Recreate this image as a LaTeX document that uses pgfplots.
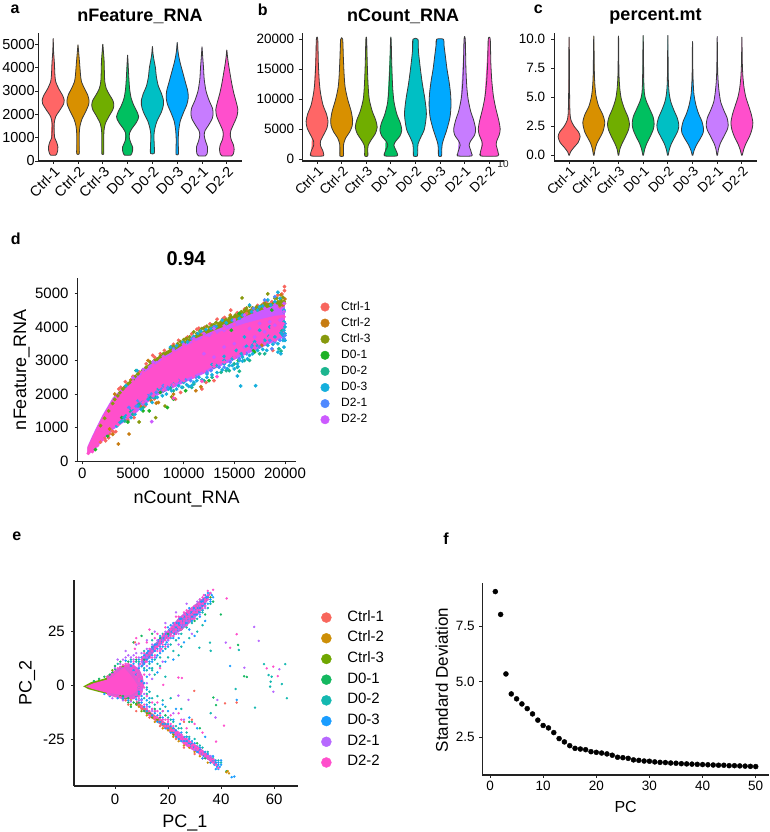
\documentclass[border=0pt]{standalone}
\usepackage{fontspec}
\setmainfont{Liberation Sans}
\usepackage{pgfplots}
\pgfplotsset{compat=1.18}

% violin fills
\definecolor{va}{HTML}{FF6666}
\definecolor{vb}{HTML}{D89000}
\definecolor{vc}{HTML}{70AE00}
\definecolor{vd}{HTML}{00C060}
\definecolor{ve}{HTML}{00BFC4}
\definecolor{vf}{HTML}{00A9FF}
\definecolor{vg}{HTML}{C77CFF}
\definecolor{vh}{HTML}{FF4FCC}
\definecolor{vline}{HTML}{3A3A3A}
\definecolor{axc}{HTML}{222222}
% panel d
\definecolor{da}{HTML}{F8665E}
\definecolor{db}{HTML}{C77C11}
\definecolor{dc}{HTML}{87990D}
\definecolor{dd}{HTML}{1DB225}
\definecolor{de}{HTML}{1CB58F}
\definecolor{df}{HTML}{15AFDC}
\definecolor{dg}{HTML}{5089FF}
\definecolor{dh}{HTML}{CC5AFF}
% panel e
\definecolor{ea}{HTML}{F8665C}
\definecolor{eb}{HTML}{CD8F07}
\definecolor{ec}{HTML}{6FA600}
\definecolor{ed}{HTML}{14B860}
\definecolor{ee}{HTML}{14B8B0}
\definecolor{ef}{HTML}{1A9DFF}
\definecolor{eg}{HTML}{B768FF}
\definecolor{eh}{HTML}{FF4FCC}

\newcommand{\fs}[1]{\fontsize{#1}{#1}\selectfont}

\pgfplotsset{
  every axis title shift=0pt,
  panel/.style={
    scale only axis,
    axis lines=left,
    axis line style={-,line width=1.2pt,color=axc},
    tick style={line width=0.9pt,color=axc},
    tick align=outside,
    major tick length=3pt,
    scaled ticks=false,
    clip=false,
    xlabel style={anchor=center,font=\fs{18}},
    ylabel style={anchor=center,font=\fs{18}},
    title style={anchor=center,font=\fs{18}\bfseries},
    legend cell align=left,
  },
  violins/.style={
    xmin=0.4,xmax=8.6,
    xtick={1,2,3,4,5,6,7,8},
    xticklabels={Ctrl-1,Ctrl-2,Ctrl-3,D0-1,D0-2,D0-3,D2-1,D2-2},
    x tick label style={rotate=45,anchor=north east,inner sep=1pt},
    title style={at={(axis description cs:0.5,1.127)}},
  },
}

% category, colour, list of y/half width in px
\newcommand{\violin}[3]{%
  \def\lft{}\def\rgt{}%
  \foreach \y/\w in {#3}{%
    \pgfmathsetmacro\xl{#1-\w/24.7}%
    \pgfmathsetmacro\xr{#1+\w/24.7}%
    \xdef\lft{\lft (\xl,\y)}%
    \xdef\rgt{(\xr,\y) \rgt}%
  }%
  \edef\temp{\noexpand\addplot[fill=#2,draw=vline,line width=0.8pt,line join=round,smooth,tension=0.45,forget plot] coordinates {\lft\space\rgt\space\lft};}%
  \temp
}
\newcommand{\scat}[3]{\addplot[only marks,mark=*,mark size=#2,color=#1,mark options={draw=none},forget plot] coordinates {#3};}

\begin{document}
\begin{tikzpicture}
\useasboundingbox (0,0) rectangle (770pt,832pt);

% panel letters
\node[font=\fs{16}\bfseries] at (15pt,822.5pt) {a};
\node[font=\fs{16}\bfseries] at (262.7pt,822.5pt) {b};
\node[font=\fs{16}\bfseries] at (538.3pt,822.5pt) {c};
\node[font=\fs{16}\bfseries] at (15.7pt,593.7pt) {d};
\node[font=\fs{16}\bfseries] at (16.7pt,295.3pt) {e};
\node[font=\fs{16}\bfseries] at (446pt,293.7pt) {f};
\node[font=\fs{10},text=axc] at (503pt,668pt) {10};

% a
\begin{axis}[panel,violins,at={(38.3pt,671pt)},width=203.4pt,height=128pt,
  ymin=0,ymax=5485,
  ytick={0,1000,2000,3000,4000,5000},yticklabels={0,1000,2000,3000,4000,5000},
  tick label style={font=\fs{14.5}},y tick label style={inner sep=0.5pt},
  title={nFeature\_RNA}]
\violin{1}{va}{250/2.5,300/3.5,450/4.5,600/4.7,800/3.5,1000/1.5,1300/1.0,1600/1.0,1900/2.5,2200/7,2450/10.5,2600/11,2800/9.5,3100/5.5,3400/2.5,3700/1.7,4200/1.2,4700/0.4,5200/0.1}
\violin{2}{vb}{300/1.2,500/1.3,800/1.2,1200/1.3,1500/2,1800/4,2100/7.5,2400/10.5,2600/11,2850/9.5,3100/6.5,3400/3.5,3700/2.5,4200/1.6,4600/0.8,4950/0.1}
\violin{3}{vc}{300/0.9,600/1,1000/1,1300/1.2,1600/2.5,1900/6,2200/10,2400/11,2600/10,2850/6.5,3100/3.5,3400/2,3800/1.6,4300/1.3,4700/0.6,5000/0.1}
\violin{4}{vd}{250/3,300/4,450/5,600/5,800/3,1000/1.7,1200/2,1400/4.5,1600/8,1800/10.5,1900/11,2100/9.5,2400/6,2700/3.5,3100/2,3600/1.2,4100/0.6,4500/0.1}
\violin{5}{ve}{320/1.8,500/2,750/1.8,1100/1.5,1400/2.5,1700/4.5,2100/9,2400/11,2600/11,2900/9,3200/6,3600/4,4000/3,4300/1.7,4600/0.6,4900/0.1}
\violin{6}{vf}{280/1.1,500/1.2,900/1,1300/1.5,1700/3,2100/6.5,2400/9.5,2700/11,3000/10.5,3400/8,3800/5.5,4200/3,4500/1.5,4700/0.8,5050/0.1}
\violin{7}{vg}{220/3.5,300/5,450/5.5,600/5.5,850/3.5,1100/2.2,1300/3,1500/6,1800/10,2000/11,2250/10.5,2600/7,3000/4,3500/2.2,4000/1.5,4400/0.8,4850/0.1}
\violin{8}{vh}{220/5,300/6.5,500/7.3,700/6.5,900/4.5,1100/3.5,1300/4,1600/7,1900/10,2200/11,2500/9.5,2900/7,3300/5,3800/3,4200/1.5,4500/0.6,4750/0.1}
\end{axis}

% b
\begin{axis}[panel,violins,at={(302.3pt,671pt)},width=201.7pt,height=128pt,
  ymin=-334,ymax=21053,
  ytick={0,5000,10000,15000,20000},yticklabels={0,5000,10000,15000,20000},
  tick label style={font=\fs{13.5}},y tick label style={inner sep=5pt},
  title={nCount\_RNA}]
\violin{1}{va}{500/6,900/6.5,1500/5.5,2200/3.5,3000/3.5,4000/6.5,5200/10,6300/11,7500/9.5,9000/6,11000/3.5,13000/2.2,16000/1.3,20000/0.7}
\violin{2}{vb}{500/1.8,1500/1.8,2500/2,3500/4,4500/8,5500/10.5,6500/11,8000/9.5,10000/6,12000/3.5,14000/2.5,17000/1.7,20000/1}
\violin{3}{vc}{500/1.5,1500/1.5,2300/2,3200/5,4200/9,5300/11,6500/9.5,8000/6,10000/3,12500/1.8,16000/1,20000/0.4}
\violin{4}{vd}{500/6,900/6.5,1500/5,2300/3,3000/5,3800/9,4800/11,6000/9.5,7500/6,9500/3.2,12000/1.8,16000/0.9,20000/0.3}
\violin{5}{ve}{500/2,1500/2.2,2500/2.6,3500/5,5000/9,7500/11,10000/9.5,12500/7,15000/5,18000/3,20000/2.5}
\violin{6}{vf}{500/1.5,1500/1.7,2500/2.2,3500/4,5000/7,7000/10,9000/11,11000/10.5,13000/9,15000/7,17000/5.5,19000/4,20000/3.5}
\violin{7}{vg}{500/7,900/7,1500/6,2300/4.5,3000/6,4000/10,5000/11,6500/9,8000/6,10000/3.5,12000/2.2,15000/1.3,20000/0.6}
\violin{8}{vh}{500/8.5,1000/9,1700/8,2300/7,3000/7.5,4000/10,5000/11,6500/9.5,8500/6.5,10500/4.2,13000/2.6,16000/1.6,20000/1}
\end{axis}

% c
\begin{axis}[panel,violins,at={(554.3pt,671pt)},width=202.4pt,height=128pt,
  ymin=-0.49,ymax=10.54,
  ytick={0,2.5,5,7.5,10},yticklabels={0.0,2.5,5.0,7.5,10.0},
  tick label style={font=\fs{13.5}},y tick label style={inner sep=6pt},
  title={percent.mt}]
\violin{1}{va}{0/0.2,0.3/1.5,0.7/5,1.1/9,1.6/11,2.0/9.5,2.5/5,3/2,3.5/1,4.5/0.6,6/0.4,8/0.3,10/0.15}
\violin{2}{vb}{0/0.3,0.5/1.3,1/3,1.5/6,2/9,2.8/11,3.5/9,4.2/5,5/2.5,5.8/1.3,7/0.6,10/0.15}
\violin{3}{vc}{0/0.3,0.5/1.3,1/3.5,1.6/7,2.2/10,2.7/11,3.3/9.5,4/6,4.8/3,5.6/1.5,7/0.5,10/0.15}
\violin{4}{vd}{0/0.3,0.5/1.5,1/3.5,1.6/7,2.2/10,2.7/11,3.3/10,4/6.5,4.7/3,5.3/1.3,6.5/0.6,10/0.15}
\violin{5}{ve}{0/0.3,0.5/1.5,1/3.5,1.5/6.5,2.1/10,2.6/11,3.2/9.5,3.9/6,4.6/3,5.3/1.4,6.5/0.5,10/0.1}
\violin{6}{vf}{0/0.3,0.4/1.5,0.9/4,1.4/7.5,1.9/10.5,2.3/11,2.9/9.5,3.6/6,4.3/3.5,5.2/1.5,6.2/0.7,7.5/0.3,9.6/0.1}
\violin{7}{vg}{0/0.3,0.5/1.2,1/3,1.6/6.5,2.2/10,2.6/11,3.2/10,3.9/6.5,4.6/3.5,5.4/2,6.3/1,7.5/0.4,10/0.1}
\violin{8}{vh}{0/0.3,0.5/1.8,1/4,1.6/7.5,2.2/10,2.8/11,3.5/9.5,4.2/7,5/4,5.8/2.2,6.8/1,8/0.4,10/0.1}
\end{axis}

% d
\begin{axis}[panel,at={(77.7pt,370.7pt)},width=218pt,height=183pt,
  xmin=-454,xmax=21056,ymin=0,ymax=5446,
  xtick={0,5000,10000,15000,20000},xticklabels={0,5000,10000,15000,20000},
  ytick={0,1000,2000,3000,4000,5000},yticklabels={0,1000,2000,3000,4000,5000},
  tick label style={font=\fs{15}},y tick label style={inner sep=6pt},x tick label style={inner sep=4pt},
  title={0.94},title style={at={(axis description cs:0.497,1.105)},font=\fs{20}\bfseries},
  xlabel={nCount\_RNA},xlabel style={at={(axis description cs:0.5,-0.205)}},
  ylabel={nFeature\_RNA},ylabel style={at={(axis description cs:-0.257,0.499)}},
  legend style={draw=none,fill=none,at={(axis description cs:1.113,0.877)},anchor=north west,
    font=\fs{12},row sep=4.1pt,inner sep=0pt,
    nodes={inner sep=0pt,text height=9pt,text depth=3pt}},
  legend image code/.code={\fill[#1] (0pt,0pt) circle (4.3pt);\path (0pt,0pt) (16pt,0pt);},
  legend columns=1]
\addlegendimage{da}\addlegendentry{Ctrl-1}
\addlegendimage{db}\addlegendentry{Ctrl-2}
\addlegendimage{dc}\addlegendentry{Ctrl-3}
\addlegendimage{dd}\addlegendentry{D0-1}
\addlegendimage{de}\addlegendentry{D0-2}
\addlegendimage{df}\addlegendentry{D0-3}
\addlegendimage{dg}\addlegendentry{D2-1}
\addlegendimage{dh}\addlegendentry{D2-2}
% upper fringe under the cloud
\addplot[fill=dc,draw=none,forget plot] coordinates {(5000,2520)(8000,3230)(10000,3560)(12000,3900)(14000,4170)(16000,4470)(18000,4700)(20000,4800)(20000,4000)(5000,2000)};
\scat{da}{1.7pt}{(19950,5200)(19950,5080)(19300,4950)(19700,4980)(18700,4750)(17900,4700)(16800,4550)(14650,4500)(14050,4280)(13300,4230)(11300,3930)(11800,3830)(11500,3960)(9500,3600)(8100,3300)(6950,3150)(7150,3090)(5000,2530)(4250,2370)(3800,2200)(3600,2150)(1800,570)(2200,680)(2600,700)(2700,820)(2300,610)(2950,900)(3100,870)(3300,880)(3550,1100)(4500,1230)(5100,1300)(6200,1650)(7100,1860)(9200,1850)(9700,2050)(11800,2150)(12200,2350)(13000,2400)(18800,3300)(19950,4700)(19500,4600)(16200,4400)(15000,4250)(12600,4090)(13900,4250)(15300,4420)(16000,4530)(17300,4640)(18200,4750)(10400,3700)(9000,3480)(7700,3200)(6300,2900)(5600,2660)(10800,3790)(12100,3990)}
\scat{db}{1.7pt}{(3550,515)(4610,812)(7500,1750)(7300,1730)(5800,1620)(11200,2100)(11700,2220)(20000,4830)(19600,4950)(19800,4650)(18900,4700)(16200,4500)(14600,4350)(12900,4050)(10200,3650)(8800,3400)(6500,3000)(4800,2420)(3200,2000)(6800,1800)(9000,2000)(3000,800)(2700,960)(17700,3450)(15000,3100)}
\scat{dc}{1.7pt}{(15760,4860)(18300,4980)(19000,4850)(19300,4750)(19600,4800)(19800,4880)(18500,4650)(17700,4640)(17200,4600)(16500,4620)(16200,4560)(15700,4450)(15100,4350)(14700,4300)(14200,4220)(13700,4150)(13200,4130)(12800,4050)(12300,4020)(11800,3950)(11000,3850)(10600,3700)(10000,3620)(9400,3500)(8700,3350)(8000,3200)(7400,3040)(6700,2950)(6000,2720)(5500,2600)(5000,2430)(4500,2300)(4000,2150)(3500,1950)(3000,1720)(2600,1500)(2200,1280)(1800,1060)(7240,1298)(8160,1645)(5600,1170)(8820,1915)(9000,3420)(9700,3560)(10300,3650)(11300,3800)(11600,3880)(12000,3960)(12600,3980)(13000,4060)(13500,4100)(14000,4180)(14500,4260)(15000,4300)(15400,4380)(16000,4490)(16800,4560)(17500,4590)(18000,4700)(18800,4680)(19200,4850)(19500,4650)(19900,4750)(7700,3130)(7100,3000)(6300,2800)(5200,2520)(4700,2350)(4200,2220)(3700,2040)(3200,1840)}
\scat{dd}{1.7pt}{(4500,1170)(6000,1500)(6600,1500)(8400,1600)(9000,1850)(15500,4400)(18700,4500)(14700,3900)(1300,350)(2500,750)(3900,1300)(7700,2050)(10200,2100)(12500,2400)(17000,3250)(15400,3000)(16900,3300)}
\scat{de}{1.7pt}{(5300,2700)(14500,2700)(15000,2900)(16000,3000)(17500,3200)(19700,3900)(4200,1200)(4700,1500)(5600,1700)(6700,1900)(8700,2180)(9900,2200)(11000,2300)(12000,2400)(13700,2650)(19400,3350)(19600,3280)(15500,2680)(5000,1400)(6000,1600)(7200,1900)(9000,2100)(10800,2200)(12800,2500)(14200,2700)(15300,2800)(16500,3000)(18000,3200)}
\scat{df}{1.7pt}{(15630,2240)(17100,2250)(15300,2540)(15350,2820)(15000,2750)(15500,3000)(19300,3250)(19600,3200)(20000,3600)(19900,3400)(19800,3750)(18200,3300)(18000,3500)(17200,3450)(16500,3150)(15800,3100)(14500,2850)(14000,2900)(13000,2800)(12300,2600)(11500,2500)(11000,2350)(10500,2230)(10000,2350)(9500,2250)(9000,2300)(8500,2150)(8000,2100)(7500,2150)(7000,1900)(6500,1850)(6000,1750)(5500,1650)(5000,1500)(4600,1550)(4100,1300)(3700,1150)(3400,1050)(19300,5030)(18300,4800)(17500,4600)(16500,4650)(15500,4250)(13800,4200)(12700,3950)(11000,3720)(10400,3550)(8700,3400)(5400,2700)(4300,2250)(19900,4500)(11400,3800)(11700,3870)(12200,3920)(13200,4010)(14200,4120)(14800,4200)(15800,4350)(16700,4450)(17300,4500)(17800,4620)(18600,4650)(19000,4750)(19500,4850)(9900,3540)(9300,3440)}
\scat{dg}{1.7pt}{(19000,4900)(18000,4800)(16900,4550)(16000,4350)(15000,3100)(14000,2800)(17000,3500)(12300,2650)(11200,2500)(9500,2400)(8000,2250)(6500,1950)(5500,1800)(4600,1600)(19900,3650)(18700,3350)(20000,4100)(13000,4000)(10800,3650)(9000,3350)(7000,2950)}
\scat{dh}{1.7pt}{(6850,1180)(19900,4700)(19000,4650)(18000,4550)(17000,4450)(16000,4350)(15000,4200)(14000,4030)(13000,3950)(12000,3800)(11000,3650)(10000,3480)(9000,3300)(8000,3120)(7000,2950)(6000,2730)(5000,2480)}
% dense cloud
\addplot[fill=dh,draw=none,forget plot] coordinates {(500,430)(1000,770)(2000,1380)(3000,1890)(4000,2200)(5000,2470)(6000,2730)(7000,2940)(8000,3110)(9000,3280)(10000,3470)(11000,3630)(12000,3760)(13000,3890)(14000,4010)(15000,4150)(16000,4300)(17000,4420)(18000,4530)(19000,4650)(20000,4700)(20000,3700)(15000,3020)(10000,2330)(7000,1900)(5000,1350)(3000,930)(1000,270)(500,230)};
\scat{df}{1.7pt}{(20000,4000)(19700,3800)(19000,3700)(18000,3600)(16800,3450)(15700,3200)(14800,3050)(14000,3000)(13200,2850)(19900,4450)(18500,4000)(17500,3900)(16000,3700)(5200,1400)(5800,1550)(6300,1700)(6900,1750)(7400,1900)(7900,1950)(8300,2000)(8800,2100)(9300,2150)(9800,2200)(10300,2280)(10800,2250)(11300,2400)(11800,2430)(12300,2500)(12800,2570)(13300,2640)(13800,2720)(14300,2760)(14800,2850)(15300,2900)(15800,2980)(16300,3050)(16800,3200)(17300,3300)(17800,3330)(18300,3450)(18800,3480)(19300,3500)(19800,3600)(20000,3800)(19900,3900)(4800,1300)(4300,1350)(3900,1200)}
\scat{dg}{1.7pt}{(5300,1650)(5900,1750)(6800,2000)(7300,2050)(7800,2150)(8400,2200)(8900,2280)(10200,2420)(10700,2400)(12700,2700)(13500,2800)(14600,2950)(15500,3050)(16200,3200)(17500,3400)(18500,3600)(19500,3600)(20000,3750)(16700,3400)(19000,3550)}
\addplot[fill=vh,draw=none,forget plot] coordinates {(500,400)(1000,720)(2000,1330)(3000,1830)(4000,2110)(5000,2350)(6000,2620)(7000,2830)(8000,3050)(9000,3230)(10000,3400)(11000,3550)(12000,3680)(13000,3800)(14000,3900)(15000,4000)(16000,4100)(17000,4180)(18000,4260)(19000,4330)(20000,4360)(20000,3750)(19000,3620)(18000,3510)(17000,3400)(16000,3250)(15000,3110)(14000,2980)(13000,2840)(12000,2700)(11000,2560)(10000,2420)(9000,2300)(8000,2150)(7000,1980)(6000,1780)(5000,1500)(4000,1270)(3000,1000)(2000,680)(1500,480)(1000,300)(500,220)};
\scat{dh}{1.7pt}{(12500,3750)(13300,3850)(14000,3900)(14800,4050)(15500,4150)(16300,4200)(17000,4300)(17800,4350)(18500,4400)(19200,4450)(19900,4450)(19500,4200)(18500,4150)(17500,4100)(16500,3950)(19800,4250)(19000,4050)(18000,3850)(15000,3500)(14000,3400)(17000,3700)(13000,3100)(12000,3200)(16000,3400)}
\scat{df}{1.7pt}{(15200,3300)(16200,3420)(17000,3560)(18400,3720)(19600,3820)(14000,3120)(12800,2880)(19900,4150)}
\scat{vh}{1.7pt}{(19900,4300)(19800,4100)(19500,3950)(19000,3850)(18500,3700)(18700,4000)(18200,4200)(17700,3600)(17000,3480)(16300,3350)(15500,3280)(15000,3150)(14300,3100)(13600,2950)(13000,2880)(12300,2780)(11500,2680)(10800,2600)(10000,2500)(9400,2400)(8800,2370)(8200,2250)(7600,2200)(7000,2100)(6300,1950)(5700,1830)(5100,1700)(4500,1520)(4000,1400)(3600,1250)(3000,1050)(2500,850)(2000,650)(1500,470)(1000,290)(600,240)(9000,1880)(11800,2380)(13300,2520)(5100,1480)(6000,1750)(7000,1950)(8000,2120)(9000,2280)(10000,2400)(11000,2520)(12000,2680)(13000,2820)(14000,2950)(15000,3090)(4500,1330)(3500,1100)(16000,3220)(17000,3380)(18000,3500)(19000,3600)(5000,2370)(6000,2640)(7000,2860)(8000,3060)(9000,3250)(10000,3420)(11000,3570)(12000,3700)(13000,3830)(14000,3950)(15000,4070)}
\end{axis}

% e
\begin{axis}[panel,at={(74pt,46pt)},width=223.7pt,height=206pt,
  xmin=-15.47,xmax=68.9,ymin=-46.9,ymax=49.07,
  xtick={0,20,40,60},xticklabels={0,20,40,60},
  ytick={-25,0,25},yticklabels={-25,0,25},
  tick label style={font=\fs{15}},y tick label style={inner sep=6pt},x tick label style={inner sep=4.5pt},
  xlabel={PC\_1},xlabel style={at={(axis description cs:0.496,-0.18)}},
  ylabel={PC\_2},ylabel style={at={(axis description cs:-0.209,0.5)}},
  legend style={draw=none,fill=none,at={(axis description cs:1.104,0.855)},anchor=north west,
    font=\fs{15},row sep=5.7pt,inner sep=0pt,
    nodes={inner sep=0pt,text height=11pt,text depth=4pt}},
  legend image code/.code={\fill[#1] (0pt,0pt) circle (5pt);\path (0pt,0pt) (20.7pt,0pt);},
  legend columns=1]
\addlegendimage{ea}\addlegendentry{Ctrl-1}
\addlegendimage{eb}\addlegendentry{Ctrl-2}
\addlegendimage{ec}\addlegendentry{Ctrl-3}
\addlegendimage{ed}\addlegendentry{D0-1}
\addlegendimage{ee}\addlegendentry{D0-2}
\addlegendimage{ef}\addlegendentry{D0-3}
\addlegendimage{eg}\addlegendentry{D2-1}
\addlegendimage{eh}\addlegendentry{D2-2}
% tip of the cloud
\addplot[fill=ec,draw=none,forget plot] coordinates {(-12,-0.5)(-9,1.5)(-5,2.8)(-2,4)(0,6)(3,-6)(-3,-4)(-7,-2.8)(-10,-1.8)};
% halo around the core and the thinner parts of the arms
\addplot[fill=eh!85!ef,draw=none,forget plot] coordinates {(-3,4.5)(0,7)(3,9.5)(6,10)(9,8)(10.5,4)(11,0)(10,-4.5)(7,-6.5)(3,-6.5)(-3,-4.5)};
\addplot[fill=eh!60!ef,draw=none,forget plot] coordinates {(10,8)(16,17.5)(22,24.5)(21,27)(17,22)(10,13)};
\addplot[fill=eh!60!eb,draw=none,forget plot] coordinates {(8,-7)(14,-13)(22,-20)(22,-23)(14,-15.5)(8,-9)};
\scat{ee}{1pt}{(9,-4)(11,-6)(13,-8)(14,-6)(15,-9)(17,-11)(18,-12)(20,-15)(21,-16)(22,-17)(23,-19)(24,-20)(25,-20)(27,-22)(28,-24)(30,-25)(32,-28)(33,-29)(35,-31)(37,-34)(39,-35)(40,-36)(16,-5)(19,-10)(13,-3)(18,-7)(35.8,19.9)(36.1,16.1)(31.8,17.5)(46.7,16.5)(56.2,9.9)(64.2,9.9)(57.9,4.8)(59.1,4)(58.7,1.7)(58.5,-0.6)(62.9,0.6)(64.8,-6)(52.8,-10.4)(45.5,-1.7)(36.1,-13)(9,11)(11,8)(13,10)(15,12)(17,13)(19,17)(21,19)(23,21)(25,24)(27,27)(29,29)(31,31)(33,34)(35,36)(36,38)(18,24)(14,21)(11,16)(1,10)(6,12)(8,11)(12,7)(14,8)(16,10)(15,5)(12,-4)(14,7)(17,9)(20,13)(22,16)(25,18)(28,22)(31,25)(33,28)(24,14)(19,4)(21,-6)(25,-11)(29,-17)(12,-1)}
\scat{ed}{1pt}{(39.9,33)(46.4,18.8)(48.7,4.2)(49.7,3.9)(37.1,-5.7)(38.1,-9.2)(3,-5)(5,-6)(7,-8)(9,-8)(11,-12)(13,-13)(15,-11)(17,-15)(19,-14)(22,-20)(27,-24)(31,-27)(34,-34)(42,-40)(0,9)(2,8.5)(-1,6)(2,11)(5,11)(8,12)(11,12)(14,18)(17,22)(20,24)(25,26)(30,30)(34,33)(37,39)(-2,5)(-4,4)(-6,3)(-8,2)(0,7.5)(3,-6.5)(5,-8)(8,-8.5)(6,-10)(7,20)(10,23)(14,24)(32,-20)(28,-17)}
\scat{ec}{1pt}{(2,-5)(4,-6)(6,-9)(8,-9)(10,-12)(12,-13)(14,-15)(16,-16)(22,-23)(-3,4)(-1,7)(3,9)(33,35)(36,41)}
\scat{eb}{1pt}{(6,-7)(9,-10)(12,-14)(15,-17)(18,-20)(20,-21)(22,-24)(24,-26)(26,-28)(28,-29)(30,-31)(32,-33)(35,-36)(42,-40.5)(43,-41)(42.5,-40)}
\scat{ea}{1pt}{(4,-7)(5,-9)(8,-12)(10,-11)(13,-15)(17,-19)(23,-25)(26,-29)(30,-32)(33,-34)(36,-36)(29.9,-2.6)(45.9,-8)(41.5,-8.4)(7.5,20)(26,-17)(29,-16)}
% dense parts of the two arms
\addplot[fill=eh!70!ef,draw=none,forget plot] coordinates {(22,23.5)(25,25.5)(30,31)(35,39.5)(36,43)(33,40.5)(28,35.5)(24,31.5)(21,27)};
\addplot[fill=eh!85!ef,draw=none,forget plot] coordinates {(22,-19.5)(26,-24)(32,-29)(38,-35)(39,-38)(33,-33)(27,-28.5)(22,-23)};
\scat{ef}{1pt}{(9,12)(10,9)(11,14)(12,12)(12.5,16)(13,11)(14,14)(14.5,17)(15,19)(15.5,13)(16,17)(16.5,21)(17,15)(17.5,20)(18,18)(18.5,22)(19,24)(19.5,20)(20,23)(20.5,26)(21,22)(21.5,25)(22,27)(22.5,24)(23,29)(23.5,26)(24,28)(24.5,31)(25,27)(25.5,30)(26,32)(26.5,29)(27,33)(27.5,31)(28,30)(28.5,34)(29,32)(29.5,36)(30,33)(30.5,35)(31,37)(31.5,34)(32,36)(32.5,39)(33,37)(33.5,40)(34,38)(34.5,41)(35,43)(36,40)(36.5,42)(20,18)(24,22)(28,26)(32,32)(8,-5)(10,-8)(12,-7)(13,-10)(15,-13)(16,-14)(17,-17)(18,-15)(19,-18)(20,-20)(21,-19)(22,-22)(23,-21)(24,-25)(25,-23)(26,-26)(27,-26)(28,-27)(28.5,-28)(29,-26)(29.5,-29)(30,-28)(30.5,-30)(31,-28.5)(31.5,-31)(32,-30)(32.5,-32)(33,-31)(33.5,-33)(34,-32)(35,-34)(36,-35)(37,-35)(37.5,-37)(38,-36)(38.5,-38)(39,-37)(39.5,-38)(45,-42.5)(44,-42.8)(40,-35)(24.5,-18)(22,-16)(20,-12)(18,-9)(43.4,9)(45.9,-6.8)(9,-1)(10,2)(8,5)(9,-3)(10,-5)(7,7)(6,9)(7,10)(6,11)(4,11.5)(9,8)(11,7)(12,4)(11,1)(12,-2)(13,-6)(10,-6.5)(12,-9)(8,-6.5)(5,-7)(3,-6)(1,-6)(-2,-5)(-4,-4)(9,10)(11,11)(13,8)(14,11)(10,13)(11,10)(12,15)(13,13)(14,12)(14,18)(15,16)(16,14)(16,19)(17,18)(17,23)(18,16)(18,21)(19,19)(19,22)(20,21)(20,27)(21,24)(21,28)(22,22)(22,29)(23,24)(23,27)(24,26)(24,29)(25,28)(25,31)(26,28)(26,30)(27,29)(27,32)(28,31)(28,36)(29,30)(29,34)(30,32)(30,36)(31,33)(31,36)(32,34)(32,40)(33,35)(33,39)(34,37)(34,42)(35,38)(35,41)(36,39)(36,43)(37,41)(11,-10)(12,-12)(14,-11)(14,-14)(15,-12)(16,-17)(17,-13)(18,-18)(19,-20)(20,-18)(21,-22)(22,-20)(23,-24)(24,-23)(25,-26)(25,-22)(26,-24)(27,-24)(27,-27)(28,-25)(29,-27)(30,-27)(31,-31)(32,-29)(33,-34)(34,-31)(35,-32)(36,-33)(36,-36)(37,-33)(38,-35)(39,-36)(39,-39)(40,-37)(38,-39)(16,6)(19,11)(22,12)(26,20)(30,23)(34,30)(23,-11)(28,-15)(31,-20)(34,-24)}
\scat{eg}{1pt}{(52.5,27.2)(54.2,20.7)(41.8,19.9)(48.8,8.2)(62,7.5)(59.7,-3)(38.6,-6.8)(37.9,-15)(23.9,-4.8)(27.7,-6.8)(5,14)(3,12)(6,13)(7,12)(8,15)(9,9)(10,15)(11,13)(12,17)(13,15)(14,19)(15,17)(16,21)(17,19)(18,21)(19,23)(20,21)(21,26)(22,23)(23,25)(24,26)(25,28)(26,28)(27,30)(28,33)(29,35)(30,32)(31,39)(32,37)(33,38)(34,36)(10,-7)(12,-10)(14,-12)(16,-15)(18,-16)(20,-19)(22,-21)(24,-23)(26,-25)(28,-28)(30,-30)(32,-31)(34,-33)(36,-33)(22,-13)(26,-16)(0,8)(2,10)(1,12)(4,13)(7,14)(9,13)(10,11)(12,9)(13,5)(14,3)(12,1)(10,-2)(11,-4)(9,-7)(6,-7.5)(3,-7)(-1,-6)(12,13)(15,13)(17,17)(19,25)(20,19)(22,28)(24,24)(26,33)(28,31)(30,35)(32,33)(34,40)(4,16)(8,19)(12,21)(15,25)(19,29)(23,34)(27,38)(18,11)(24,19)(29,24)}
\addplot[fill=vh,draw=none,forget plot] coordinates {(-11,-0.5)(-8,1)(-5,2)(-2,3)(0,5)(2,7)(3.5,8)(5,6)(7,3)(8.5,0)(8,-3)(6,-4.5)(3,-4.5)(0,-4)(-3,-3.5)(-6,-2.5)(-9,-1.5)};
\scat{eh}{1pt}{(7,11)(8,13)(9.5,10)(10.5,13)(11.5,11)(12,14)(13,17)(13.5,13)(14,16)(15,14)(15.5,18)(16,16)(16.5,19)(17,21)(17.5,17)(18,20)(18.5,24)(19,21)(19.5,23)(20,25)(20.5,22)(21,24)(21.5,27)(22,25)(22.5,29)(23,26)(23.5,28)(24,30)(24.5,27)(25,29)(25.5,32)(26,30)(26.5,33)(27,31)(27.5,34)(28,32)(28.5,35)(29,33)(29.5,34)(30,37)(30.5,36)(31,35)(31.5,38)(32,38)(33,36)(33.5,42)(34,40)(35,44)(37,44.5)(42.1,40.5)(13,26)(7.5,17)(9,19.5)(45.9,23.8)(43.4,17.5)(57.2,7.9)(59.7,8.7)(61.4,4.3)(23.9,3.6)(25.2,3.4)(18.2,0.2)(41.1,-18.8)(38.1,-26.2)(9,-6)(11,-9)(13,-12)(14,-11)(15,-15)(16,-12)(17,-14)(18,-17)(19,-16)(20,-17)(21,-21)(22,-19)(23,-23)(24,-22)(24.5,-24)(25,-25)(25.5,-24)(26,-25)(26.5,-27)(27,-25)(27.5,-28)(28,-26)(28.5,-26.5)(29,-28)(29.5,-27.5)(30,-29.5)(30.5,-28.5)(31,-30)(31.5,-29.5)(32,-31)(32.5,-30.5)(33,-32)(34,-33)(35,-33)(36,-34.5)(37,-36)(38,-37)(39,-38.5)(25,-16)(16,-8)(9,3)(9.5,-2)(8.5,5)(6,8)(5,10)(4,9)(9,-5)(7,-5.5)(2,8.5)(3,9.5)(4,10)(5,9)(6,7)(7,6)(8,4)(9,2)(10,0)(9,-1)(10,-3)(8,-4.5)(6,-6)(4,-5.5)(2,-5.5)(0,-5)(-2,-4.5)(0,6)(-1,5)(-3,3.8)(1,8)(11,-1)(12,-5)(11,5)(7,9)(8,7)(10,4)(10,12)(11,15)(12,11)(13,15)(14,13)(15,17)(16,18)(17,16)(17,20)(18,19)(18,23)(19,22)(19,18)(20,22)(21,26)(21,23)(22,23)(22,27)(23,24)(23,28)(24,27)(24,32)(25,26)(25,30)(26,29)(26,34)(27,28)(27,32)(27,35)(28,30)(28,34)(29,31)(29,36)(30,34)(30,31)(31,34)(31,37)(32,35)(32,40)(33,38)(33,41)(34,37)(34,39)(35,40)(35,42)(36,43)(12,20)(15,22)(19,27)(23,32)(10,-10)(12,-11)(13,-14)(15,-12)(16,-15)(17,-16)(18,-16)(19,-19)(20,-19)(21,-18)(22,-21)(23,-22)(24,-24)(25,-23)(26,-27)(27,-27)(28,-28)(29,-29)(30,-28)(31,-29)(32,-32)(33,-31)(34,-32)(35,-34)(36,-35)(37,-34.5)(14,-8)(18,-12)(21,-14)(27,-20)(20,-16)(8,22)(16,24)(17,8)(30,-18)(33,-22)(24,-13)}
\end{axis}

% f
\begin{axis}[panel,at={(482.3pt,57pt)},width=286.7pt,height=192.3pt,
  xmin=-1.45,xmax=52.5,ymin=0.8,ymax=9.46,
  xtick={0,10,20,30,40,50},xticklabels={0,10,20,30,40,50},
  ytick={2.5,5,7.5},yticklabels={2.5,5.0,7.5},
  tick label style={font=\fs{13.5}},y tick label style={inner sep=4.5pt},x tick label style={inner sep=3pt},
  xlabel={PC},xlabel style={at={(axis description cs:0.5,-0.165)},font=\fs{16}},
  ylabel={Standard Deviation},ylabel style={at={(axis description cs:-0.1416,0.494)},font=\fs{17}}]
\addplot[only marks,mark=*,mark size=2.5pt,color=black] coordinates {
(1,9.06)(2,8.03)(3,5.35)(4,4.45)(5,4.23)(6,4.0)(7,3.79)(8,3.55)(9,3.27)(10,3.03)
(11,2.92)(12,2.71)(13,2.44)(14,2.29)(15,2.12)(16,2.0)(17,1.97)(18,1.94)(19,1.85)(20,1.82)
(21,1.79)(22,1.75)(23,1.69)(24,1.6)(25,1.58)(26,1.55)(27,1.48)(28,1.46)(29,1.43)(30,1.42)
(31,1.39)(32,1.37)(33,1.36)(34,1.34)(35,1.33)(36,1.31)(37,1.30)(38,1.29)(39,1.28)(40,1.27)
(41,1.26)(42,1.25)(43,1.24)(44,1.24)(45,1.22)(46,1.22)(47,1.21)(48,1.2)(49,1.19)(50,1.18)
};
\end{axis}
\end{tikzpicture}
\end{document}
